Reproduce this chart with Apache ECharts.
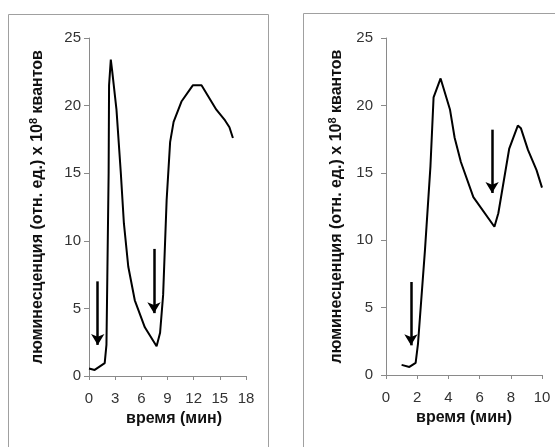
<!DOCTYPE html>
<html>
<head>
<meta charset="utf-8">
<script src="https://cdn.jsdelivr.net/npm/echarts@6/dist/echarts.min.js"></script>
<style>
html,body{margin:0;padding:0;background:#fff;}
#chart{width:555px;height:447px;}
</style>
</head>
<body>
<div id="chart"></div>
<script>
// Left panel data (time, min / luminescence)
const leftTime = [0, 0.65, 1.8, 2.0, 2.1, 2.25, 2.3, 2.5, 2.65, 3.15, 3.65, 4.0, 4.5, 5.25, 6.4, 7.75, 8.15, 8.5, 8.9, 9.3, 9.7, 10.6, 11.9, 12.9, 14.6, 15.6, 16.1, 16.5];
const leftLum  = [0.55, 0.45, 0.95, 2.3, 7.3, 15.0, 21.5, 23.4, 22.6, 19.7, 15.0, 11.3, 8.1, 5.6, 3.6, 2.2, 3.2, 6.0, 13.0, 17.3, 18.8, 20.3, 21.5, 21.5, 19.7, 18.9, 18.4, 17.6];
// Right panel data
const rightTime = [1.0, 1.5, 1.9, 2.05, 2.5, 2.85, 3.05, 3.5, 4.1, 4.4, 4.8, 5.6, 6.95, 7.2, 7.9, 8.45, 8.65, 9.1, 9.65, 10.0];
const rightLum  = [0.75, 0.6, 0.9, 2.3, 9.3, 15.5, 20.6, 22.0, 19.7, 17.6, 15.8, 13.2, 11.0, 12.0, 16.8, 18.5, 18.3, 16.7, 15.2, 13.9];
// Arrows (time, top value, tip value)
const leftArrowTime = [1.0, 7.45];
const leftArrowTop  = [7.0, 9.4];
const leftArrowTip  = [2.3, 4.65];
const rightArrowTime = [1.6, 6.8];
const rightArrowTop  = [6.9, 18.2];
const rightArrowTip  = [2.2, 13.5];
// Axis ticks
const leftXTicks = [0, 3, 6, 9, 12, 15, 18];
const rightXTicks = [0, 2, 4, 6, 8, 10];
const yTicks = [0, 5, 10, 15, 20, 25];

const yTitle = 'люминесценция (отн. ед.) х 10{sup|8} квантов';
const xTitle = 'время (мин)';
const FONT = '"Liberation Sans", Arial, sans-serif';

function pairs(xs, ys){ return xs.map((x,i)=>[x, ys[i]]); }
function arrows(xs, tops, tips){
  return xs.map((x,i)=>[{coord:[x, tops[i]]},{coord:[x, tips[i]]}]);
}
function xAxisFor(idx, ticks, shift){
  return {
    type:'value', gridIndex: idx, min: ticks[0], max: ticks[ticks.length-1], interval: ticks[1]-ticks[0],
    axisLine:{lineStyle:{color:'#8a8a8a', width:1}},
    axisTick:{show:true, length:4, lineStyle:{color:'#8a8a8a'}},
    splitLine:{show:false},
    axisLabel:{color:'#333', fontSize:15, fontFamily:FONT, margin:15},
    name: xTitle, nameLocation:'middle', nameGap:35,
    nameTextStyle:{color:'#111', fontSize:16, fontWeight:'bold', fontFamily:FONT, padding:[0,0,0,shift]}
  };
}
function yAxisFor(idx, gap, lm){
  return {
    type:'value', gridIndex: idx, min: yTicks[0], max: yTicks[yTicks.length-1], interval: yTicks[1]-yTicks[0],
    axisLine:{show:true, lineStyle:{color:'#8a8a8a', width:1}},
    axisTick:{show:true, length:5, lineStyle:{color:'#8a8a8a'}},
    splitLine:{show:false},
    axisLabel:{color:'#333', fontSize:15, fontFamily:FONT, margin:lm},
    name: yTitle, nameLocation:'middle', nameGap:gap,
    nameTextStyle:{color:'#111', fontSize:16, fontWeight:'bold', fontFamily:FONT,
      rich:{sup:{fontSize:11, fontWeight:'bold', fontFamily:FONT, color:'#111', verticalAlign:'top', lineHeight:19}}}
  };
}
function markArrows(data){
  return {
    silent:true, symbol:['none','arrow'], symbolSize:[10,11], animation:false,
    label:{show:false},
    lineStyle:{color:'#000', width:2.5, type:'solid'},
    itemStyle:{color:'#000'},
    emphasis:{disabled:true},
    data: data
  };
}

const chart = echarts.init(document.getElementById('chart'), null, {renderer:'canvas'});
chart.setOption({
  animation:false,
  backgroundColor:'#fff',
  graphic:[
    {type:'rect', shape:{x:8.5, y:14.5, width:260, height:440}, style:{fill:'none', stroke:'#a0a0a0', lineWidth:1}, silent:true, z:-1},
    {type:'rect', shape:{x:303.5, y:13.5, width:260, height:440}, style:{fill:'none', stroke:'#a0a0a0', lineWidth:1}, silent:true, z:-1}
  ],
  grid:[
    {left:89, top:38, width:157, height:338},
    {left:386, top:38, width:156, height:337}
  ],
  xAxis:[xAxisFor(0, leftXTicks, 13), xAxisFor(1, rightXTicks, 0)],
  yAxis:[yAxisFor(0, 42, 8), yAxisFor(1, 40, 13)],
  series:[
    {type:'line', xAxisIndex:0, yAxisIndex:0, data:pairs(leftTime, leftLum), showSymbol:false, symbol:'none',
     lineStyle:{color:'#000', width:2}, itemStyle:{color:'#000'}, markLine: markArrows(arrows(leftArrowTime, leftArrowTop, leftArrowTip))},
    {type:'line', xAxisIndex:1, yAxisIndex:1, data:pairs(rightTime, rightLum), showSymbol:false, symbol:'none',
     lineStyle:{color:'#000', width:2}, itemStyle:{color:'#000'}, markLine: markArrows(arrows(rightArrowTime, rightArrowTop, rightArrowTip))}
  ]
});
</script>
</body>
</html>
